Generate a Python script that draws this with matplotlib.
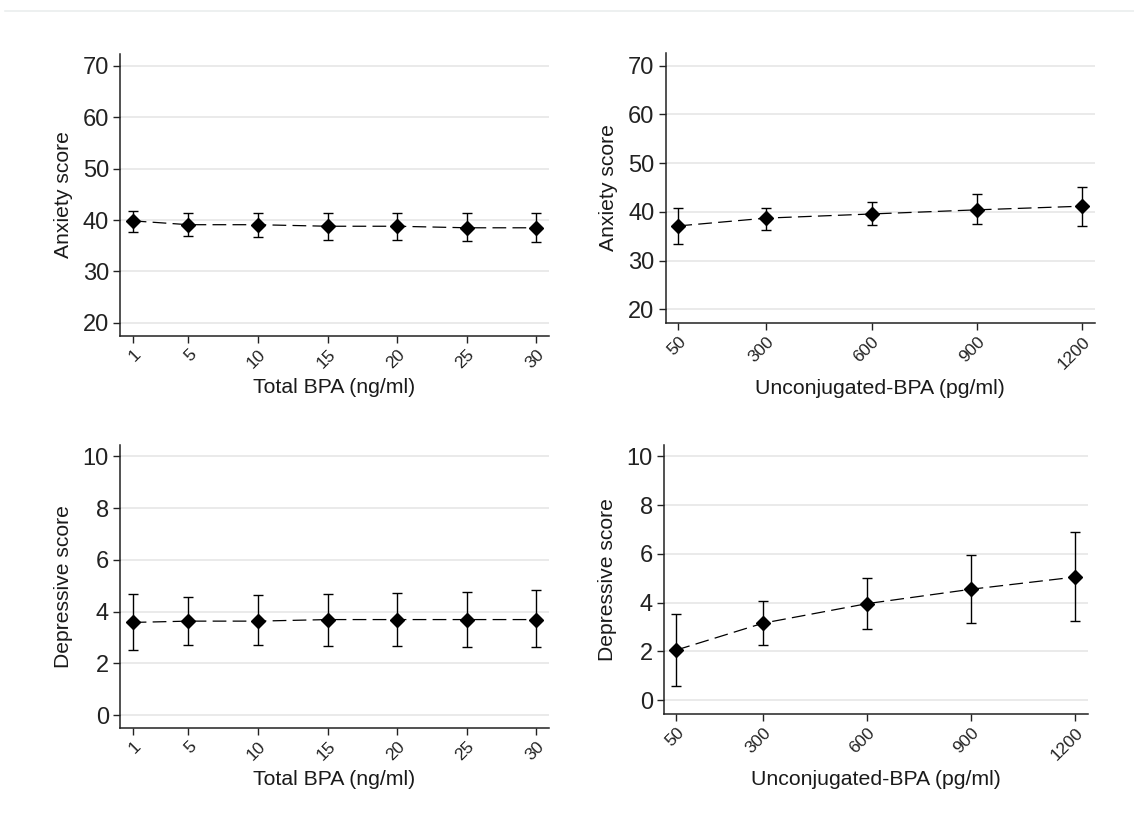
import numpy as np
import matplotlib
matplotlib.use("Agg")
import matplotlib.pyplot as plt
from matplotlib.lines import Line2D

plt.rcParams['font.family'] = ['Liberation Sans', 'DejaVu Sans']

# Total BPA (ng/ml)
total_bpa = [1, 5, 10, 15, 20, 25, 30]
anx_total = [39.85, 39.1, 39.1, 38.8, 38.8, 38.5, 38.5]
anx_total_lo = [37.6, 37.0, 36.8, 36.2, 36.2, 36.0, 35.7]
anx_total_hi = [41.85, 41.35, 41.35, 41.35, 41.35, 41.35, 41.35]
dep_total = [3.58, 3.63, 3.63, 3.69, 3.69, 3.69, 3.69]
dep_total_lo = [2.51, 2.72, 2.72, 2.67, 2.67, 2.62, 2.62]
dep_total_hi = [4.66, 4.57, 4.63, 4.66, 4.72, 4.77, 4.82]

# Unconjugated BPA (pg/ml)
unconj_bpa = [50, 300, 600, 900, 1200]
anx_unconj = [37.1, 38.7, 39.55, 40.4, 41.15]
anx_unconj_lo = [33.35, 36.2, 37.3, 37.45, 37.1]
anx_unconj_hi = [40.85, 40.85, 41.95, 43.6, 45.0]
dep_unconj = [2.06, 3.16, 3.96, 4.55, 5.05]
dep_unconj_lo = [0.60, 2.28, 2.94, 3.16, 3.25]
dep_unconj_hi = [3.55, 4.07, 5.00, 5.97, 6.90]

fig = plt.figure(figsize=(11.34, 8.27), dpi=100)
fig.add_artist(Line2D([0.004, 1.0], [0.987, 0.987], color='#eaeeee', lw=1.2))

panels = [
    ([0.1058, 0.594, 0.3783, 0.3407], total_bpa, anx_total, anx_total_lo, anx_total_hi,
     (0.09, 30.9), (17.5, 72.3), [20, 30, 40, 50, 60, 70], 'Total BPA (ng/ml)', 'Anxiety score'),
    ([0.587, 0.6098, 0.3786, 0.3257], unconj_bpa, anx_unconj, anx_unconj_lo, anx_unconj_hi,
     (14, 1236), (17.25, 72.5), [20, 30, 40, 50, 60, 70], 'Unconjugated-BPA (pg/ml)', 'Anxiety score'),
    ([0.1058, 0.1201, 0.3783, 0.3418], total_bpa, dep_total, dep_total_lo, dep_total_hi,
     (0.09, 30.9), (-0.49, 10.44), [0, 2, 4, 6, 8, 10], 'Total BPA (ng/ml)', 'Depressive score'),
    ([0.5855, 0.137, 0.3736, 0.3249], unconj_bpa, dep_unconj, dep_unconj_lo, dep_unconj_hi,
     (14, 1236), (-0.55, 10.46), [0, 2, 4, 6, 8, 10], 'Unconjugated-BPA (pg/ml)', 'Depressive score'),
]

for rect, x, y, lo, hi, xlim, ylim, yticks, xlabel, ylabel in panels:
    ax = fig.add_axes(rect)
    y = np.array(y)
    err = [y - np.array(lo), np.array(hi) - y]
    ax.plot(x, y, color='black', lw=0.9, dashes=(11, 5), zorder=2)
    ax.errorbar(x, y, yerr=err, fmt='D', color='black', ms=6.8, elinewidth=1.0,
                capsize=3.4, capthick=1.0, zorder=3)
    ax.set_xlim(xlim)
    ax.set_ylim(ylim)
    ax.set_yticks(yticks)
    ax.set_xticks(x)
    ax.set_xticklabels([str(v) for v in x], rotation=45, ha='right', va='top',
                       rotation_mode='anchor', fontsize=12.5, color='#1a1a1a')
    ax.tick_params(axis='y', labelsize=17, length=5, width=1, pad=3, colors='#222222')
    ax.tick_params(axis='x', length=5, width=1, pad=3, colors='#222222')
    ax.grid(axis='y', color='#e6e6e6', lw=1.2)
    ax.set_axisbelow(True)
    for s in ['top', 'right']:
        ax.spines[s].set_visible(False)
    for s in ['left', 'bottom']:
        ax.spines[s].set_color('#222222')
        ax.spines[s].set_linewidth(1.1)
    ax.set_xlabel(xlabel, fontsize=15.3, color='#1a1a1a', labelpad=5)
    ax.set_ylabel(ylabel, fontsize=15.2, color='#1a1a1a', labelpad=7)

fig.savefig('out.png', dpi=100, facecolor='white')
